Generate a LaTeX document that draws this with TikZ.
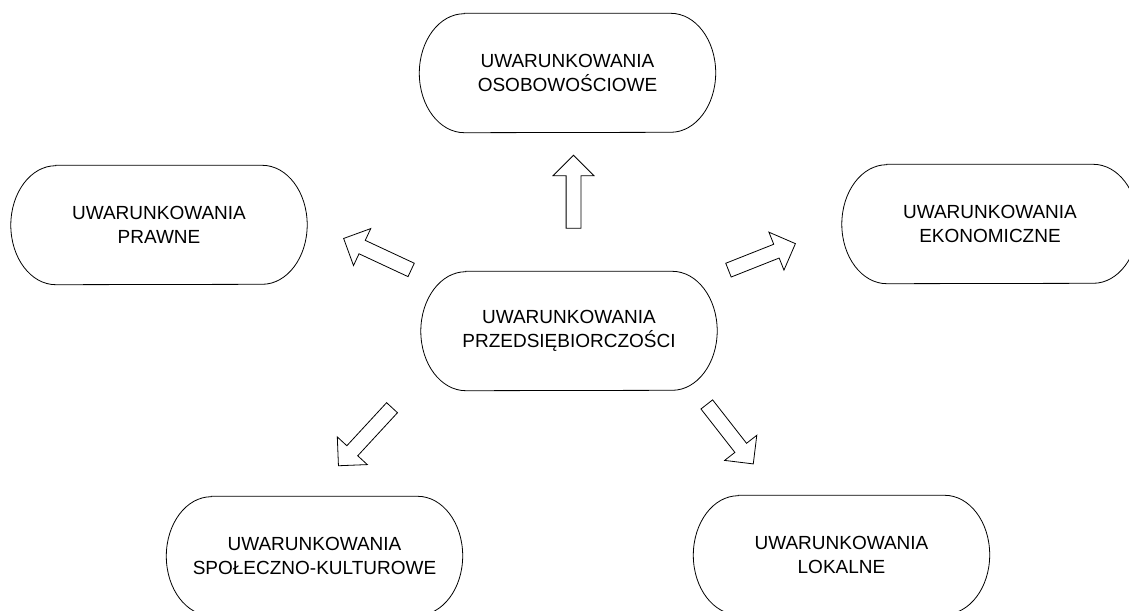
\documentclass[tikz,border=0pt]{standalone}
\usepackage{fontspec}
\setmainfont{Liberation Sans}
\usetikzlibrary{shapes.arrows}
\newcommand\stadium[1]{\draw[outline] ([xshift=45pt]#1.north west) -- ([xshift=-45pt]#1.north east) arc[start angle=90,end angle=-90,x radius=45pt,y radius=59.5pt] -- ([xshift=45pt]#1.south west) arc[start angle=270,end angle=90,x radius=45pt,y radius=59.5pt] -- cycle;}
\begin{document}
\begin{tikzpicture}[x=1pt,y=1pt,
  box/.style={minimum width=296pt, minimum height=119pt, align=center, inner sep=0pt,
    font=\fontsize{19}{24}\selectfont},
  outline/.style={draw, line width=0.8pt},
  blk/.style={single arrow, draw, line width=0.8pt, inner sep=7pt,
    single arrow head extend=13pt, single arrow tip angle=90, minimum width=0pt}]
\useasboundingbox (0,0) rectangle (1129,-610);
\clip (0,0) rectangle (1129,-610);
\node[box] (top) at (567.5,-73) {UWARUNKOWANIA\\OSOBOWOŚCIOWE};
\node[box] (left) at (159,-225) {UWARUNKOWANIA\\PRAWNE};
\node[box] (right) at (990,-224) {UWARUNKOWANIA\\EKONOMICZNE};
\node[box] (center) at (569,-331) {UWARUNKOWANIA\\PRZEDSIĘBIORCZOŚCI};
\node[box] (bl) at (314.5,-556) {UWARUNKOWANIA\\SPOŁECZNO-KULTUROWE};
\node[box] (br) at (841.5,-555) {UWARUNKOWANIA\\LOKALNE};
\foreach \n in {top,left,right,center,bl,br} {\stadium{\n}}
\node[blk, minimum height=73pt, rotate=90] (aup) at (573.5,-195.5) {};
\node[blk, minimum height=74.5pt, rotate=155] (alu) at (380.75,-255.75) {};
\node[blk, minimum height=72pt, rotate=21.6] (aru) at (758.5,-258.25) {};
\node[blk, minimum height=79pt, rotate=227.3] (adl) at (367.75,-434) {};
\node[blk, minimum height=75.5pt, rotate=-52] (adr) at (727.75,-431.25) {};
\end{tikzpicture}
\end{document}
